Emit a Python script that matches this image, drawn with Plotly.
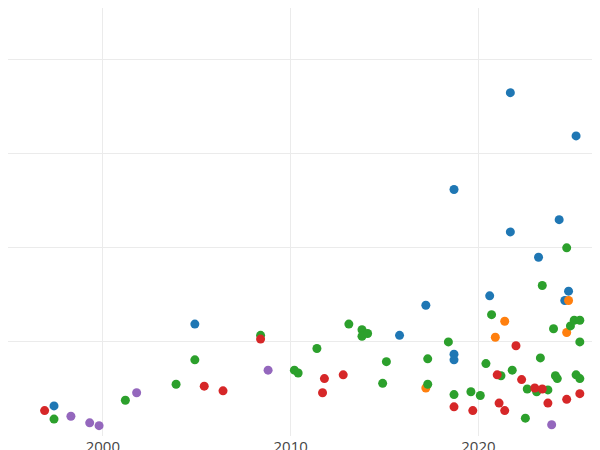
import plotly.graph_objects as go

blue_x = [1997.4,2004.9,2015.8,2017.2,2018.7,2018.7,2018.7,2020.6,2021.7,2021.7,2023.2,2024.3,2024.6,2024.8,2025.2]
blue_y = [0.32,1.19,1.07,1.39,2.62,0.87,0.81,1.49,3.65,2.17,1.90,2.30,1.44,1.54,3.19]
orange_x = [2017.2,2020.9,2021.4,2024.7,2024.8]
orange_y = [0.51,1.05,1.22,1.10,1.44]
green_x = [1997.4,2001.2,2003.9,2004.9,2008.4,2010.2,2010.4,2011.4,2013.1,2013.8,2013.8,2014.1,2014.9,2015.1,2017.3,2017.3,2018.4,2018.7,2019.6,2020.1,2020.4,2020.7,2021.2,2021.8,2022.5,2022.6,2023.1,2023.3,2023.4,2023.7,2024.0,2024.1,2024.2,2024.7,2024.9,2025.1,2025.4,2025.2,2025.4,2025.4]
green_y = [0.18,0.38,0.55,0.81,1.07,0.70,0.67,0.93,1.19,1.13,1.06,1.09,0.56,0.79,0.82,0.55,1.00,0.44,0.47,0.43,0.77,1.29,0.64,0.70,0.19,0.50,0.47,0.83,1.60,0.49,1.14,0.64,0.61,2.00,1.17,1.23,1.23,0.65,1.00,0.61]
red_x = [1996.9,2005.4,2006.4,2008.4,2011.7,2011.8,2012.8,2018.7,2019.7,2021.0,2021.1,2021.4,2022.0,2022.3,2023.0,2023.4,2023.7,2024.7,2025.4]
red_y = [0.27,0.53,0.48,1.03,0.46,0.61,0.65,0.31,0.27,0.65,0.35,0.27,0.96,0.60,0.51,0.50,0.35,0.39,0.45]
purple_x = [1998.3,1999.3,1999.8,2001.8,2008.8,2023.9]
purple_y = [0.21,0.14,0.11,0.46,0.70,0.12]

series = [(blue_x, blue_y, "#1f77b4"), (orange_x, orange_y, "#ff7f0e"),
          (green_x, green_y, "#2ca02c"), (red_x, red_y, "#d62728"),
          (purple_x, purple_y, "#9467bd")]

fig = go.Figure()
for xs, ys, c in series:
    fig.add_trace(go.Scatter(x=xs, y=ys, mode="markers",
                             marker=dict(color=c, size=9)))

fig.update_layout(width=600, height=450, showlegend=False,
                  plot_bgcolor="white", paper_bgcolor="white",
                  margin=dict(l=0, r=0, t=0, b=22, autoexpand=False),
                  font=dict(family="Open Sans", size=15, color="#444"))
fig.update_xaxes(range=[1994.95, 2026.9], tickvals=[2000, 2010, 2020],
                 showgrid=True, gridcolor="#ebebeb", zeroline=False, showline=False,
                 ticklabelstandoff=0)
fig.update_yaxes(range=[0, 4.55], tickvals=[1, 2, 3, 4], showticklabels=False,
                 showgrid=True, gridcolor="#ebebeb", zeroline=False)
fig.write_html("out.html")
